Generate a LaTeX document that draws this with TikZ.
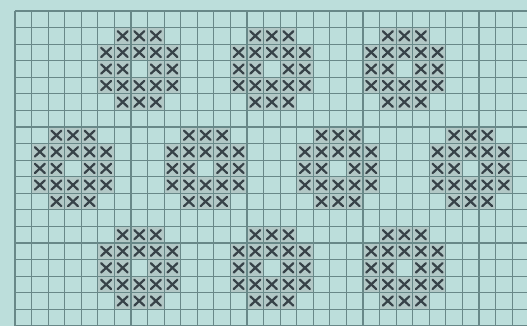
\documentclass[tikz,border=0pt]{standalone}
\usepackage{tikz}
\definecolor{paper}{RGB}{188,222,219}
\definecolor{gridcol}{RGB}{104,136,136}
\definecolor{thread}{RGB}{55,66,72}
\definecolor{shade}{RGB}{178,200,198}
\tikzset{
  gridline/.style = {draw=gridcol, line width=1.0pt},
  stitch/.style   = {draw=thread, line width=1.9pt, line cap=round},
  stitchbg/.style = {fill=shade},
}
% top-left cell of each ring motif (column/row, counted from the grid corner)
\def\motifs{5/1, 13/1, 21/1, 1/7, 9/7, 17/7, 25/7, 5/13, 13/13, 21/13}
% stitched cells of one 5x5 ring
\def\ringcells{1/0, 2/0, 3/0,
               0/1, 1/1, 2/1, 3/1, 4/1,
               0/2, 1/2, 3/2, 4/2,
               0/3, 1/3, 2/3, 3/3, 4/3,
               1/4, 2/4, 3/4}
\begin{document}
\begin{tikzpicture}[x=0.5cm, y=-0.5cm]

% ────────────────────────────────────────────────────────────
%  Paper: 31 x 19 cells, grid corner at (0,0), cut at right/bottom
% ────────────────────────────────────────────────────────────
\useasboundingbox (-0.905,-0.664) rectangle (30.90,19.01);
\clip (-0.905,-0.664) rectangle (30.90,19.01);
\fill[paper] (-0.905,-0.664) rectangle (30.90,19.01);

% shaded cells under the stitches
\foreach \mx/\my in \motifs {
  \foreach \cx/\cy in \ringcells {
    \fill[stitchbg] (\mx+\cx,\my+\cy) rectangle ++(1,1);
  }
}

% ═══════════════════════════════════════════════════════════
%  GRID
% ═══════════════════════════════════════════════════════════
\foreach \i in {0,...,31}
  \draw[gridline] (\i,0) -- (\i,19.5);
\foreach \j in {0,...,19}
  \draw[gridline] (0,\j) -- (31.5,\j);

% ═══════════════════════════════════════════════════════════
%  CROSS STITCHES
% ═══════════════════════════════════════════════════════════
\foreach \mx/\my in \motifs {
  \foreach \cx/\cy in \ringcells {
    \draw[stitch] (\mx+\cx+0.2,\my+\cy+0.22) -- ++(0.6,0.56);
    \draw[stitch] (\mx+\cx+0.8,\my+\cy+0.22) -- ++(-0.6,0.56);
  }
}

\end{tikzpicture}
\end{document}
